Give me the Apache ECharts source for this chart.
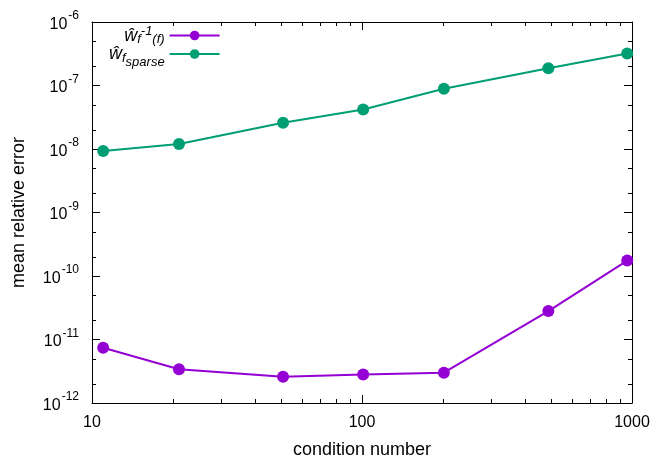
<!DOCTYPE html>
<html><head><meta charset="utf-8">
<script src="https://cdn.jsdelivr.net/npm/echarts@6/dist/echarts.min.js"></script>
<style>html,body{margin:0;padding:0;background:#fff}#c{width:670px;height:460px}</style>
</head><body><div id="c"></div>
<script>
// ---- data ----
const conditionNumbers = [11, 21, 51, 101, 201, 490, 960];
const errInverse = [7.4e-12, 3.4e-12, 2.6e-12, 2.8e-12, 3.0e-12, 2.8e-11, 1.75e-10];
const errSparse = [9.3e-9, 1.2e-8, 2.6e-8, 4.2e-8, 8.9e-8, 1.87e-7, 3.2e-7];
const seriesNames = ['w_f^-1(f)', 'w_f_sparse'];
const xMin = 10, xMax = 1000;
const yMin = 1e-12, yMax = 1e-6;
const xMinorTicks = [20,30,40,50,60,70,80,90,200,300,400,500,600,700,800,900];
const yMinorTicks = [2e-12,5e-12,2e-11,5e-11,2e-10,5e-10,2e-9,5e-9,2e-8,5e-8,2e-7,5e-7];

const FONT = '"Liberation Sans", Arial, Helvetica, sans-serif';
const PURPLE = '#9400D3', GREEN = '#009E73';

function zip(xs, ys) { return xs.map((x, i) => [x, ys[i]]); }

const chart = echarts.init(document.getElementById('c'), null, {renderer: 'canvas'});

const tickLine = {stroke: '#000', lineWidth: 1};
function xMinorRender(params, api) {
  const cs = params.coordSys;
  const px = Math.round(api.coord([api.value(0), 1e-9])[0]) + 0.5;
  const b = cs.y + cs.height, t = cs.y;
  return {type: 'group', silent: true, children: [
    {type: 'line', shape: {x1: px, y1: b, x2: px, y2: b - 4}, style: tickLine},
    {type: 'line', shape: {x1: px, y1: t, x2: px, y2: t + 4}, style: tickLine}
  ]};
}
function yMinorRender(params, api) {
  const cs = params.coordSys;
  const py = Math.round(api.coord([100, api.value(1)])[1]) + 0.5;
  const l = cs.x, r = cs.x + cs.width;
  return {type: 'group', silent: true, children: [
    {type: 'line', shape: {x1: l, y1: py, x2: l + 4, y2: py}, style: tickLine},
    {type: 'line', shape: {x1: r, y1: py, x2: r - 4, y2: py}, style: tickLine}
  ]};
}

const axisLineStyle = {show: true, lineStyle: {color: '#000', width: 1}};
const majorTick = {show: true, inside: true, length: 8, lineStyle: {color: '#000', width: 1}};

const option = {
  animation: false,
  backgroundColor: '#fff',
  textStyle: {fontFamily: FONT},
  grid: {left: 92, right: 38, top: 22, bottom: 57, containLabel: false, outerBoundsMode: 'none'},
  legend: {
    data: seriesNames,
    orient: 'vertical',
    left: 104,
    top: 20,
    align: 'right',
    itemWidth: 50,
    itemHeight: 12,
    itemGap: -1,
    textStyle: {
      fontFamily: FONT, fontSize: 16, color: '#000', width: 58, align: 'right',
      rich: {
        w: {fontSize: 18, fontStyle: 'italic', fontFamily: FONT},
        sub: {fontSize: 13, fontStyle: 'italic', fontFamily: FONT, padding: [8, 0, 0, 0]},
        sup: {fontSize: 13, fontStyle: 'italic', fontFamily: FONT, padding: [0, 0, 8, 0]},
        ssub: {fontSize: 13, fontStyle: 'italic', fontFamily: FONT, padding: [16, 0, 0, 0]}
      }
    },
    formatter: function (name) {
      if (name === seriesNames[0]) return '{w|ŵ}{sub|f}{sup|-1}{sub|(f)}';
      return '{w|ŵ}{sub|f}{ssub|sparse}';
    }
  },
  xAxis: [
    {
      type: 'log', logBase: 10, min: xMin, max: xMax, position: 'bottom',
      name: 'condition number', nameLocation: 'middle', nameGap: 38,
      nameTextStyle: {fontSize: 18, color: '#000', fontFamily: FONT},
      axisLine: axisLineStyle, axisTick: majorTick,
      axisLabel: {fontSize: 16, color: '#000', margin: 12, fontFamily: FONT,
        formatter: v => String(Math.round(v))},
      splitLine: {show: false}, minorTick: {show: false}
    },
    {
      type: 'log', logBase: 10, min: xMin, max: xMax, position: 'top',
      axisLine: axisLineStyle, axisTick: majorTick,
      axisLabel: {show: false}, splitLine: {show: false}
    }
  ],
  yAxis: [
    {
      type: 'log', logBase: 10, min: yMin, max: yMax, position: 'left',
      name: 'mean relative error', nameLocation: 'middle', nameGap: 64, nameRotate: 90,
      nameTextStyle: {fontSize: 18, color: '#000', fontFamily: FONT},
      axisLine: axisLineStyle, axisTick: majorTick,
      axisLabel: {
        color: '#000', margin: 13, fontFamily: FONT,
        formatter: v => '{b|10}{s|' + Math.round(Math.log10(v)) + '}',
        rich: {
          b: {fontSize: 16, color: '#000', fontFamily: FONT, padding: [5, 0, 0, 0]},
          s: {fontSize: 12, color: '#000', fontFamily: FONT, padding: [0, 0, 12, 1]}
        }
      },
      splitLine: {show: false}
    },
    {
      type: 'log', logBase: 10, min: yMin, max: yMax, position: 'right',
      axisLine: axisLineStyle, axisTick: majorTick,
      axisLabel: {show: false}, splitLine: {show: false}
    }
  ],
  series: [
    {
      name: seriesNames[0], type: 'line', data: zip(conditionNumbers, errInverse),
      symbol: 'circle', symbolSize: 12, color: PURPLE,
      lineStyle: {color: PURPLE, width: 2}, itemStyle: {color: PURPLE},
      z: 3
    },
    {
      name: seriesNames[1], type: 'line', data: zip(conditionNumbers, errSparse),
      symbol: 'circle', symbolSize: 12, color: GREEN,
      lineStyle: {color: GREEN, width: 2}, itemStyle: {color: GREEN},
      z: 3
    },
    {
      type: 'custom', silent: true, clip: false, renderItem: xMinorRender,
      data: xMinorTicks.map(v => [v, 1e-9]), z: 1
    },
    {
      type: 'custom', silent: true, clip: false, renderItem: yMinorRender,
      data: yMinorTicks.map(v => [100, v]), z: 1
    }
  ]
};
chart.setOption(option);
</script>
</body></html>
